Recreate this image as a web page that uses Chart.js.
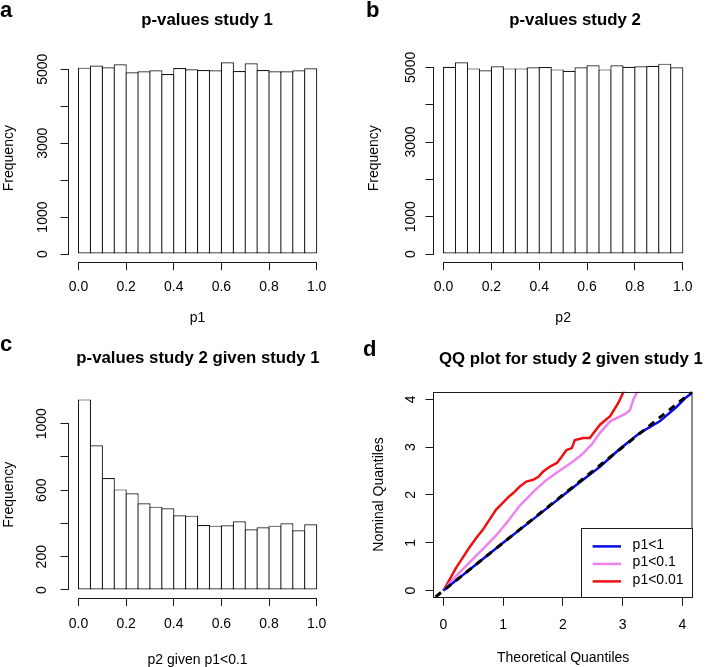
<!DOCTYPE html>
<html><head><meta charset="utf-8">
<script src="https://cdn.jsdelivr.net/npm/chart.js@4.4.1/dist/chart.umd.min.js"></script>
<style>
html,body{margin:0;padding:0;background:#fff;overflow:hidden;width:708px;height:667px;}
#wrap{position:relative;width:708px;height:667px;overflow:hidden;}
canvas{position:absolute;}
.t{position:absolute;font-family:'Liberation Sans',Arial,Helvetica,sans-serif;font-weight:bold;font-size:16.8px;line-height:1;white-space:nowrap;color:#000;}
.l{position:absolute;font-family:'Liberation Sans',Arial,Helvetica,sans-serif;font-weight:bold;font-size:22px;line-height:1;color:#000;}
</style></head>
<body><div id="wrap">
<canvas id="ca" width="354" height="333" style="left:0;top:0"></canvas>
<canvas id="cb" width="354" height="333" style="left:354px;top:0"></canvas>
<canvas id="cc" width="354" height="340" style="left:0;top:333px"></canvas>
<canvas id="cd" width="354" height="340" style="left:354px;top:333px"></canvas>
<div class="l" style="left:0;top:-1px">a</div>
<div class="l" style="left:366px;top:-1px">b</div>
<div class="l" style="left:0;top:333px">c</div>
<div class="l" style="left:363px;top:338px">d</div>
<div class="t" style="left:207px;top:20px;transform:translate(-50%,-50%)">p-values study 1</div>
<div class="t" style="left:575px;top:20px;transform:translate(-50%,-50%)">p-values study 2</div>
<div class="t" style="left:198px;top:358px;transform:translate(-50%,-50%)">p-values study 2 given study 1</div>
<div class="t" style="left:439px;top:359px;transform:translateY(-50%)">QQ plot for study 2 given study 1</div>
</div>
<script>
// ---------- data ----------
const binMids = [0.025,0.075,0.125,0.175,0.225,0.275,0.325,0.375,0.425,0.475,0.525,0.575,0.625,0.675,0.725,0.775,0.825,0.875,0.925,0.975];
const countsA = [5045,5100,5054,5136,4918,4946,4973,4873,5036,5000,4982,4973,5190,4955,5163,4982,4946,4946,4973,5027];
const countsB = [5018,5134,4973,4920,5027,4973,4973,5000,5009,4946,4910,5000,5054,4946,5054,5018,5027,5045,5099,5000];
const countsC = [1146,870,673,605,581,521,501,491,449,447,391,387,389,413,365,377,387,401,359,395];
const xTicksHist = [0,0.2,0.4,0.6,0.8,1.0];
const yTicksAB = [0,1000,2000,3000,4000,5000];
const yLabelsAB = ['0','1000','','3000','','5000'];
const yTicksC = [0,200,400,600,800,1000];
const yLabelsC = ['0','200','','600','','1000'];
const qqTicks = [0,1,2,3,4];
const qqLabels = ['0','1','2','3','4'];
const qqAllX = [0,0.5,1.0,1.5,2.0,2.3,2.62,2.95,3.29,3.62,3.90,4.05,4.25];
const qqAllY = [0,0.5,1.0,1.49,1.99,2.28,2.59,2.96,3.30,3.54,3.84,4.03,4.22];
const qq01X = [0,0.21,0.43,0.66,0.88,1.08,1.28,1.51,1.73,1.95,2.17,2.34,2.42,2.48,2.62,2.79,2.95,3.05,3.12,3.18,3.26];
const qq01Y = [0,0.30,0.58,0.87,1.15,1.45,1.78,2.07,2.32,2.51,2.70,2.87,2.98,3.05,3.30,3.54,3.64,3.70,3.77,4.00,4.20];
const qq001X = [0,0.10,0.21,0.32,0.43,0.55,0.66,0.77,0.88,0.99,1.10,1.17,1.28,1.39,1.51,1.59,1.67,1.78,1.90,1.98,2.06,2.15,2.20,2.34,2.45,2.62,2.79,2.93,3.03];
const qq001Y = [0,0.22,0.47,0.68,0.89,1.10,1.27,1.48,1.69,1.83,1.97,2.04,2.18,2.28,2.32,2.38,2.49,2.59,2.67,2.80,2.94,2.98,3.15,3.19,3.19,3.47,3.65,3.93,4.20];
const refLine = [-0.3,4.4];
const seriesNames = ['p1<1','p1<0.1','p1<0.01'];

// ---------- style ----------
const FONT = "'Liberation Sans', Arial, Helvetica, sans-serif";
Chart.defaults.font.family = FONT;
Chart.defaults.font.size = 14;
Chart.defaults.color = '#000';
const AX = '#1a1a1a';
const BLUE = '#0a0ae6', VIOLET = '#ee82ee', RED = '#ee1111';

const rAxes = {
  id: 'rAxes',
  afterDraw(chart, args, o) {
    const {ctx, chartArea: a} = chart;
    ctx.save();
    ctx.strokeStyle = AX; ctx.lineWidth = 1;
    if (o.box) {
      const l = Math.round(a.left) - 0.5, t = Math.round(a.top) + 0.5;
      ctx.strokeRect(l, t, Math.round(a.right) - Math.round(a.left) + 0.5, Math.round(a.bottom) - Math.round(a.top));
    } else {
      const xs = chart.scales.x, ys = chart.scales.y;
      const xt = xs.ticks, yt = ys.ticks;
      const y = Math.round(a.bottom) + 0.5;
      const x = Math.round(a.left) - 0.5;
      ctx.beginPath();
      ctx.moveTo(xs.getPixelForValue(xt[0].value), y);
      ctx.lineTo(xs.getPixelForValue(xt[xt.length - 1].value), y);
      ctx.moveTo(x, ys.getPixelForValue(yt[0].value));
      ctx.lineTo(x, ys.getPixelForValue(yt[yt.length - 1].value));
      ctx.stroke();
    }
    ctx.restore();
  }
};

const qqLegend = {
  id: 'qqLegend',
  afterDraw(chart, args, o) {
    if (!o.show) return;
    const {ctx, chartArea: a} = chart;
    const items = chart.data.datasets.filter(d => seriesNames.includes(d.label));
    const w = 111.6, h = 69;
    const L = Math.round(a.right - w), T = Math.round(a.bottom - h);
    ctx.save();
    ctx.fillStyle = '#fff';
    ctx.fillRect(L, T, a.right - L, a.bottom - T);
    ctx.strokeStyle = AX; ctx.lineWidth = 1;
    ctx.strokeRect(L + 0.5, T + 0.5, Math.round(a.right) - L, Math.round(a.bottom) - T);
    items.forEach((d, i) => {
      const y = T + 18.4 + i * 17.5;
      ctx.strokeStyle = d.borderColor; ctx.lineWidth = d.borderWidth;
      ctx.beginPath(); ctx.moveTo(L + 11.6, y); ctx.lineTo(L + 40, y); ctx.stroke();
      ctx.fillStyle = '#000'; ctx.font = '14px ' + FONT; ctx.textBaseline = 'middle'; ctx.textAlign = 'left';
      ctx.fillText(d.label, L + 51.6, y - 1.5);
    });
    ctx.restore();
  }
};

function tickGrid() {
  return {display: true, offset: false, drawOnChartArea: false, drawTicks: true, tickLength: 8.5, color: AX, lineWidth: 1};
}

function histConfig(counts, o) {
  return {
    type: 'bar',
    data: {datasets: [{
      data: binMids.map((m, i) => ({x: m, y: counts[i]})),
      backgroundColor: '#fff', borderColor: AX,
      borderWidth: 1.2,
      borderSkipped: false, barPercentage: 1.1, categoryPercentage: 1
    }]},
    options: {
      responsive: false, animation: false, devicePixelRatio: 1,
      layout: {padding: {top: o.top, right: o.right, left: 0, bottom: 0}},
      plugins: {legend: {display: false}, tooltip: {enabled: false}, title: {display: false}},
      scales: {
        x: {
          type: 'linear', offset: false, min: -0.04, max: 1.04,
          afterBuildTicks: s => { s.ticks = xTicksHist.map(v => ({value: v})); },
          afterFit: s => { s.height = o.xh; },
          grid: tickGrid(), border: {display: false},
          ticks: {padding: o.xpad, maxRotation: 0, minRotation: 0, autoSkip: false, callback: v => Number(v).toFixed(1)},
          title: {display: true, text: o.xtitle, padding: {top: 0, bottom: o.xtpad}}
        },
        y: {
          type: 'linear', min: o.ymin, max: o.ymax,
          afterBuildTicks: s => { s.ticks = o.yticks.map(v => ({value: v})); },
          afterFit: s => { s.width = o.yw; },
          grid: tickGrid(), border: {display: false},
          ticks: {padding: o.ypad, minRotation: 90, maxRotation: 90, crossAlign: 'center', autoSkip: false,
            callback: (v, i) => o.ylabels[i]},
          title: {display: true, text: 'Frequency', padding: {top: o.ytpad, bottom: 0}}
        }
      }
    },
    plugins: [rAxes]
  };
}

const pts = (xs, ys) => xs.map((x, i) => ({x, y: ys[i]}));

new Chart(document.getElementById('ca'), histConfig(countsA, {
  top: 54.6, right: 354 - 326.2, xh: 333 - 261.7, yw: 69, xpad: 8.7, xtpad: 6.6, ypad: 2.1, ytpad: 0.8,
  ymin: -207.6, ymax: 5397.6, yticks: yTicksAB, ylabels: yLabelsAB, xtitle: 'p1'
}));
new Chart(document.getElementById('cb'), histConfig(countsB, {
  top: 54.7, right: 354 - 338.3, xh: 333 - 261.7, yw: 80, xpad: 8.7, xtpad: 6.6, ypad: -0.8, ytpad: 11.6,
  ymin: -205.4, ymax: 5339.4, yticks: yTicksAB, ylabels: yLabelsAB, xtitle: 'p2'
}));
new Chart(document.getElementById('cc'), histConfig(countsC, {
  top: 58.8, right: 354 - 326.2, xh: 340 - 264.6, yw: 69, xpad: 9.5, xtpad: 4.6, ypad: 2.3, ytpad: 0.6,
  ymin: -45.8, ymax: 1191.8, yticks: yTicksC, ylabels: yLabelsC, xtitle: 'p2 given p1<0.1'
}));

new Chart(document.getElementById('cd'), {
  type: 'line',
  data: {datasets: [
    {label: 'y = x', data: pts(refLine, refLine), borderColor: '#000', borderWidth: 3, borderDash: [7, 6], pointRadius: 0, tension: 0, order: -1},
    {label: seriesNames[0], data: pts(qqAllX, qqAllY), borderColor: BLUE, borderWidth: 2.5, pointRadius: 0, tension: 0},
    {label: seriesNames[1], data: pts(qq01X, qq01Y), borderColor: VIOLET, borderWidth: 2.5, pointRadius: 0, tension: 0},
    {label: seriesNames[2], data: pts(qq001X, qq001Y), borderColor: RED, borderWidth: 2.5, pointRadius: 0, tension: 0}
  ]},
  options: {
    responsive: false, animation: false, devicePixelRatio: 1,
    layout: {padding: {top: 58.7, right: 354 - 338.3, left: 0, bottom: 0}},
    plugins: {legend: {display: false}, tooltip: {enabled: false}, title: {display: false},
      rAxes: {box: true}, qqLegend: {show: true}},
    scales: {
      x: {
        type: 'linear', offset: false, min: -0.156, max: 4.165,
        afterBuildTicks: s => { s.ticks = qqTicks.map(v => ({value: v})); },
        afterFit: s => { s.height = 340 - 264.3; },
        grid: tickGrid(), border: {display: false},
        ticks: {padding: 10.8, maxRotation: 0, minRotation: 0, autoSkip: false, callback: (v, i) => qqLabels[i]},
        title: {display: true, text: 'Theoretical Quantiles', padding: {top: 0, bottom: 6.6}}
      },
      y: {
        type: 'linear', min: -0.14, max: 4.16,
        afterBuildTicks: s => { s.ticks = qqTicks.map(v => ({value: v})); },
        afterFit: s => { s.width = 80; },
        grid: tickGrid(), border: {display: false},
        ticks: {padding: 10.9, minRotation: 90, maxRotation: 90, crossAlign: 'center', autoSkip: false, callback: (v, i) => qqLabels[i]},
        title: {display: true, text: 'Nominal Quantiles', padding: {top: 16.6, bottom: 0}}
      }
    }
  },
  plugins: [rAxes, qqLegend]
});
</script>
</body></html>
